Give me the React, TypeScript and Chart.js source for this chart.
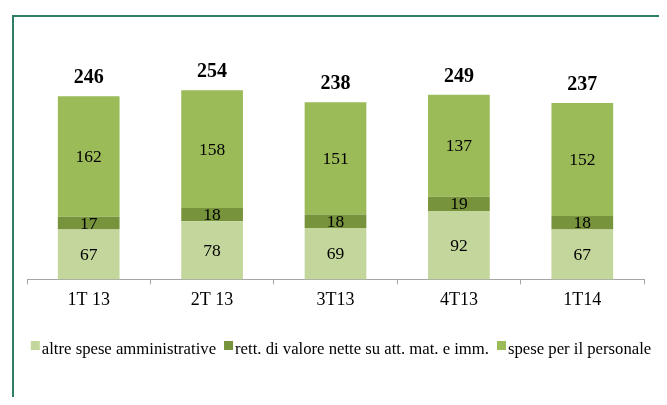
import React, { useEffect, useRef } from "react";
import { Chart, registerables } from "chart.js";

Chart.register(...registerables);

const categories = ["1T 13", "2T 13", "3T13", "4T13", "1T14"];
const altreSpese = [67, 78, 69, 92, 67];
const rettValore = [17, 18, 18, 19, 18];
const spesePersonale = [162, 158, 151, 137, 152];
const totals = [246, 254, 238, 249, 237];

const seriesNames = [
  "altre spese amministrative",
  "rett. di valore nette su att. mat. e imm.",
  "spese per il personale",
];
const seriesColors = ["#c3d69b", "#77933c", "#9bbb59"];

const FONT = "'Liberation Serif', 'Times New Roman', serif";

const labelPlugin = {
  id: "segLabels",
  afterDatasetsDraw(chart: any) {
    const ctx = chart.ctx;
    ctx.save();
    ctx.textAlign = "center";
    ctx.textBaseline = "middle";
    ctx.fillStyle = "#000";
    chart.data.datasets.forEach((ds: any, di: number) => {
      const meta = chart.getDatasetMeta(di);
      meta.data.forEach((el: any, i: number) => {
        const p = el.getProps(["x", "y", "base"], true);
        ctx.font = `17.5px ${FONT}`;
        ctx.fillText(String(ds.data[i]), p.x, (p.y + p.base) / 2 + 1);
      });
    });
    const last = chart.getDatasetMeta(chart.data.datasets.length - 1);
    last.data.forEach((el: any, i: number) => {
      const p = el.getProps(["x", "y"], true);
      ctx.font = `bold 20px ${FONT}`;
      ctx.fillText(String(totals[i]), p.x, p.y - 18);
    });
    ctx.restore();
  },
};

const legendPlugin = {
  id: "customLegend",
  afterDraw(chart: any) {
    const ctx = chart.ctx;
    ctx.save();
    ctx.font = `16.7px ${FONT}`;
    ctx.textBaseline = "alphabetic";
    ctx.textAlign = "left";
    const box = 9;
    const gapBoxText = 2;
    const gapItems = 8;
    const widths = seriesNames.map((n) => ctx.measureText(n).width);
    const total =
      widths.reduce((a, b) => a + b, 0) +
      seriesNames.length * (box + gapBoxText) +
      (seriesNames.length - 1) * gapItems;
    let x = 333 - total / 2;
    const baseline = 346;
    seriesNames.forEach((n, i) => {
      ctx.fillStyle = seriesColors[i];
      ctx.fillRect(x, baseline - 13, box, box);
      x += box + gapBoxText;
      ctx.fillStyle = "#000";
      ctx.fillText(n, x, baseline);
      x += widths[i] + gapItems;
    });
    ctx.restore();
  },
};

export default function App() {
  const ref = useRef<HTMLCanvasElement>(null);
  useEffect(() => {
    if (!ref.current) return;
    const data = [altreSpese, rettValore, spesePersonale];
    const chart = new Chart(ref.current, {
      type: "bar",
      data: {
        labels: categories,
        datasets: data.map((d, i) => ({
          label: seriesNames[i],
          data: d,
          backgroundColor: seriesColors[i],
          borderWidth: 0,
          barPercentage: 0.5,
          categoryPercentage: 1,
        })),
      },
      options: {
        animation: false,
        responsive: false,
        maintainAspectRatio: false,
        layout: { padding: { left: 19, right: 15, top: 48, bottom: 81 } },
        plugins: {
          tooltip: { enabled: false },
          legend: { display: false },
        },
        scales: {
          x: {
            stacked: true,
            grid: {
              display: true,
              offset: true,
              drawOnChartArea: false,
              tickLength: 5,
              color: "#a6a6a6",
            },
            border: { display: true, color: "#a6a6a6" },
            ticks: {
              color: "#000",
              padding: 5,
              font: { family: FONT, size: 18 },
            },
          },
          y: {
            stacked: true,
            display: false,
            min: 0,
            max: 300,
          },
        },
      },
      plugins: [labelPlugin, legendPlugin],
    });
    return () => chart.destroy();
  }, []);
  return (
    <div style={{ position: "relative", width: 651, height: 389 }}>
      <div
        style={{
          position: "absolute",
          left: 4,
          top: 7,
          right: 0,
          bottom: -8,
          borderLeft: "2px solid #2e7d66",
          borderTop: "2px solid #2e7d66",
        }}
      />
      <canvas
        ref={ref}
        width={651}
        height={389}
        style={{ position: "absolute", left: 0, top: 0 }}
      />
    </div>
  );
}
